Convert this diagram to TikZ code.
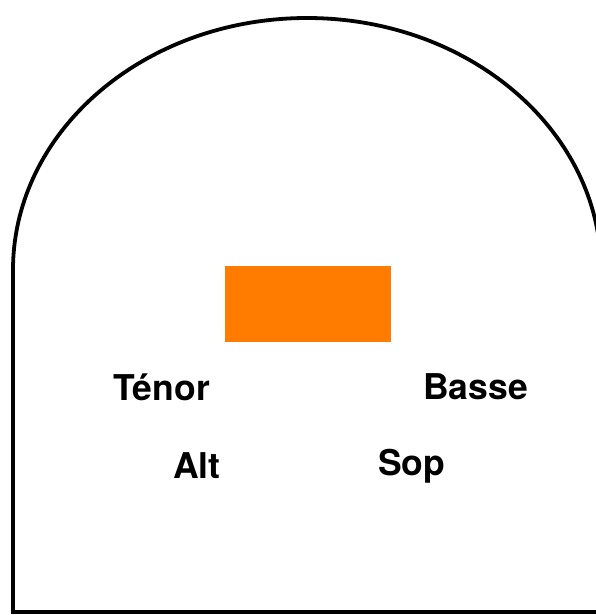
\documentclass[tikz,border=0pt]{standalone}
\usepackage{fontspec}
\setmainfont{TeX Gyre Heros}
\definecolor{stageorange}{RGB}{255,124,0}
\tikzset{
  voice/.style={anchor=base west, inner sep=0pt, font=\fontsize{35.5}{40}\selectfont\bfseries},
  outline/.style={draw=black, line width=3.8pt},
}
\begin{document}
\begin{tikzpicture}[x=1pt,y=-1pt]
\useasboundingbox (0,0) rectangle (595,615);
\fill[white] (0,0) rectangle (595,615);
\draw[outline] (13,612) -- (13,270) arc[start angle=180, end angle=360, x radius=294, y radius=252] -- (601,612) -- cycle;
\node[fill=stageorange, minimum width=166pt, minimum height=76pt, inner sep=0pt, anchor=north west] (pupitre) at (225,266) {};
\node[voice] (tenor) at (113,400) {Ténor};
\node[voice] (basse) at (423,399) {Basse};
\node[voice] (alt) at (173,478) {Alt};
\node[voice] (sop) at (378,475) {Sop};
\end{tikzpicture}
\end{document}
